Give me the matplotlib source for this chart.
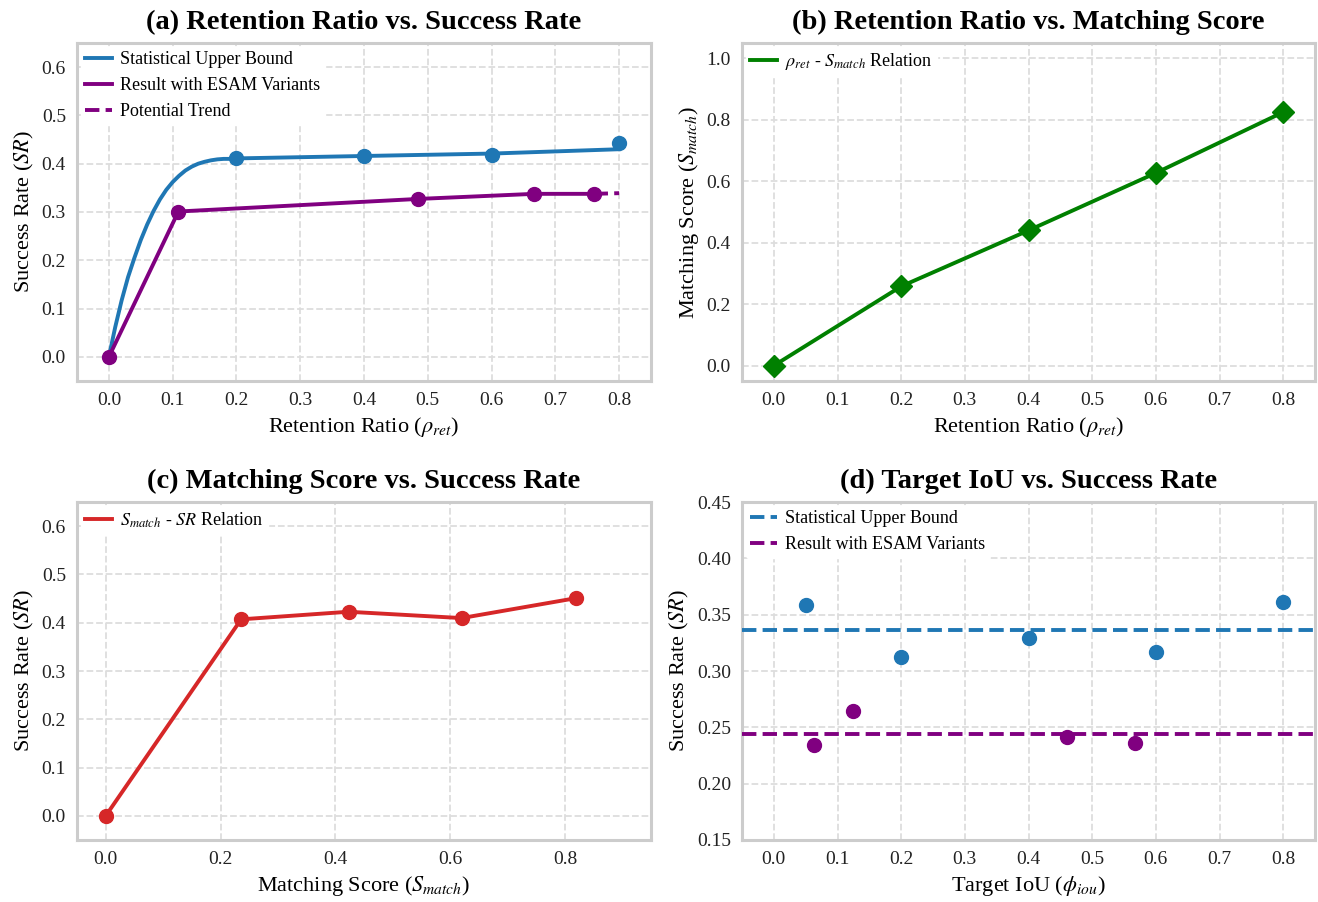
import numpy as np
import matplotlib.pyplot as plt

# ---------- DATA ----------
# (a) retention ratio vs success rate
ub_curve_x = [0.0, 0.01, 0.02, 0.03, 0.04, 0.05, 0.06, 0.07, 0.08, 0.09, 0.10,
              0.11, 0.12, 0.13, 0.14, 0.15, 0.16, 0.17, 0.18, 0.19, 0.20,
              0.40, 0.60, 0.80]
ub_curve_y = [0.0, 0.062, 0.117, 0.165, 0.205, 0.242, 0.274, 0.302, 0.326, 0.346, 0.362,
              0.375, 0.386, 0.394, 0.400, 0.404, 0.407, 0.409, 0.410, 0.410, 0.411,
              0.416, 0.421, 0.430]
ub_pts_x = [0.2, 0.4, 0.6, 0.8]
ub_pts_y = [0.411, 0.4157, 0.4185, 0.4427]
esam_x = [0.0, 0.109, 0.484, 0.667, 0.760]
esam_y = [0.0, 0.301, 0.327, 0.3376, 0.3376]
trend_x = [0.760, 0.80]
trend_y = [0.3376, 0.339]

# (b) retention ratio vs matching score
ret_b = [0.0, 0.2, 0.4, 0.6, 0.8]
match_b = [0.0, 0.258, 0.440, 0.627, 0.825]

# (c) matching score vs success rate
match_c = [0.0, 0.236, 0.423, 0.620, 0.820]
sr_c = [0.0, 0.407, 0.4227, 0.4096, 0.451]

# (d) target IoU vs success rate
iou_ub = [0.05, 0.2, 0.4, 0.6, 0.8]
sr_ub = [0.359, 0.3128, 0.329, 0.317, 0.3613]
iou_esam = [0.0627, 0.1248, 0.4607, 0.567]
sr_esam = [0.2339, 0.2649, 0.2414, 0.236]
ub_mean = 0.3366
esam_mean = 0.2437

# ---------- STYLE ----------
plt.rcParams['font.family'] = ['Liberation Serif', 'DejaVu Serif']
plt.rcParams['mathtext.fontset'] = 'stix'

BLUE = '#1f77b4'
PURPLE = 'purple'
GREEN = 'green'
RED = '#d62728'


def style_axes(ax):
    ax.grid(True, linestyle='--', color='#dddddd', linewidth=1.3)
    ax.set_axisbelow(True)
    for s in ax.spines.values():
        s.set_color('#cccccc')
        s.set_linewidth(2.2)
    ax.tick_params(length=0, labelsize=14, pad=8, colors='#222222')


def legend(ax):
    return ax.legend(loc='upper left', fontsize=13, frameon=True, facecolor='white',
                     edgecolor='white', framealpha=1, borderaxespad=0.2, borderpad=0.25,
                     handlelength=1.5, handletextpad=0.45, labelspacing=0.5)


fig = plt.figure(figsize=(13.18, 9.02), dpi=100)
W, H = 1318, 902


def add_axes(l, t, r, b):
    return fig.add_axes([l / W, 1 - b / H, (r - l) / W, (b - t) / H])


ax_a = add_axes(77, 43, 651, 381)
ax_b = add_axes(742, 43, 1315, 381)
ax_c = add_axes(77, 502, 651, 840)
ax_d = add_axes(742, 502, 1315, 840)

title_kw = dict(fontsize=20.5, fontweight='bold', pad=10)
label_kw = dict(fontsize=16)

# ---------- (a) ----------
ax = ax_a
ax.plot(ub_curve_x, ub_curve_y, color=BLUE, lw=2.8, label='Statistical Upper Bound', zorder=3)
ax.plot(esam_x, esam_y, color=PURPLE, lw=2.8, label='Result with ESAM Variants', zorder=3)
ax.plot(trend_x, trend_y, color=PURPLE, lw=2.8, ls='--', label='Potential Trend', zorder=3)
ax.plot(ub_pts_x, ub_pts_y, 'o', color=BLUE, ms=10, zorder=4)
ax.plot(esam_x, esam_y, 'o', color=PURPLE, ms=10, zorder=4)
ax.set_xlim(-0.05, 0.85)
ax.set_ylim(-0.05, 0.65)
ax.set_xticks(np.arange(0, 0.81, 0.1))
ax.set_yticks(np.arange(0, 0.61, 0.1))
ax.set_title('(a) Retention Ratio vs. Success Rate', **title_kw)
ax.set_xlabel(r'Retention Ratio ($\rho_{ret}$)', **label_kw)
ax.set_ylabel(r'Success Rate ($SR$)', **label_kw)
style_axes(ax)
legend(ax)

# ---------- (b) ----------
ax = ax_b
ax.plot(ret_b, match_b, color=GREEN, lw=2.8, label=r'$\rho_{ret}$ - $S_{match}$ Relation', zorder=3)
ax.plot(ret_b, match_b, 'D', color=GREEN, ms=11, zorder=4)
ax.set_xlim(-0.05, 0.85)
ax.set_ylim(-0.05, 1.05)
ax.set_xticks(np.arange(0, 0.81, 0.1))
ax.set_yticks(np.arange(0, 1.01, 0.2))
ax.set_title('(b) Retention Ratio vs. Matching Score', **title_kw)
ax.set_xlabel(r'Retention Ratio ($\rho_{ret}$)', **label_kw)
ax.set_ylabel(r'Matching Score ($S_{match}$)', **label_kw)
style_axes(ax)
legend(ax)

# ---------- (c) ----------
ax = ax_c
ax.plot(match_c, sr_c, color=RED, lw=2.8, label=r'$S_{match}$ - $SR$ Relation', zorder=3)
ax.plot(match_c, sr_c, 'o', color=RED, ms=10, zorder=4)
ax.set_xlim(-0.05, 0.95)
ax.set_ylim(-0.05, 0.65)
ax.set_xticks(np.arange(0, 0.81, 0.2))
ax.set_yticks(np.arange(0, 0.61, 0.1))
ax.set_title('(c) Matching Score vs. Success Rate', **title_kw)
ax.set_xlabel(r'Matching Score ($S_{match}$)', **label_kw)
ax.set_ylabel(r'Success Rate ($SR$)', **label_kw)
style_axes(ax)
legend(ax)

# ---------- (d) ----------
ax = ax_d
ax.axhline(ub_mean, color=BLUE, lw=2.8, ls='--', label='Statistical Upper Bound', zorder=3)
ax.axhline(esam_mean, color=PURPLE, lw=2.8, ls='--', label='Result with ESAM Variants', zorder=3)
ax.plot(iou_ub, sr_ub, 'o', color=BLUE, ms=10, zorder=4)
ax.plot(iou_esam, sr_esam, 'o', color=PURPLE, ms=10, zorder=4)
ax.set_xlim(-0.05, 0.85)
ax.set_ylim(0.15, 0.45)
ax.set_xticks(np.arange(0, 0.81, 0.1))
ax.set_yticks(np.arange(0.15, 0.451, 0.05))
ax.set_title('(d) Target IoU vs. Success Rate', **title_kw)
ax.set_xlabel(r'Target IoU ($\phi_{iou}$)', **label_kw)
ax.set_ylabel(r'Success Rate ($SR$)', **label_kw)
style_axes(ax)
legend(ax)

fig.savefig('out.png', dpi=100, facecolor='white')
